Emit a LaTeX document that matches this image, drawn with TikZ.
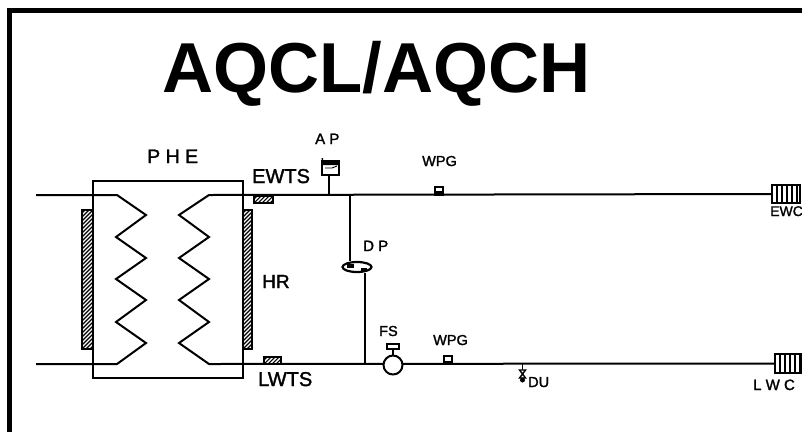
\documentclass[tikz,border=0pt]{standalone}
\usepackage{fontspec}
\setmainfont{Liberation Sans}
\newfontfamily\labfont[FakeBold=1.6]{Liberation Sans}
\usetikzlibrary{shapes.geometric}
\newcommand{\hatchrect}[5]{% x1,y1,x2,y2,line width
 \begin{scope}
 \clip (#1,#2) rectangle (#3,#4);
 \fill[black] (#1,#2) rectangle (#3,#4);
 \foreach \k in {-160,-156,...,24}{\draw[white,line width=#5pt] (#1+\k,#4+2)--(#1+\k+160,#4-158);}
 \end{scope}}
\tikzset{
 x=1pt,y=-1pt,
 pipe/.style={line width=2pt,line join=miter},
 vline/.style={line width=1.3pt},
 lbs/.style={inner sep=0pt,anchor=base west,font=\labfont\fontsize{14.5}{15}\selectfont},
 lbm/.style={inner sep=0pt,anchor=base west,font=\labfont\fontsize{15}{15}\selectfont},
 lbl/.style={inner sep=0pt,anchor=base west,font=\labfont\fontsize{20}{20}\selectfont},
 instr/.style={draw,line width=2pt,fill=white,inner sep=0pt},
 outline/.style={draw,line width=1.5pt,inner sep=0pt},
}
\begin{document}
\begin{tikzpicture}
\useasboundingbox (0,0) rectangle (802,432);
\fill[black] (7,8) rectangle (802,13);
\fill[black] (7,8) rectangle (12,432);
\node[inner sep=0pt,anchor=base,font=\bfseries\fontsize{70.7}{71}\selectfont] (title) at (376.5,92) {AQCL/AQCH};
\coordinate (tl) at (36,195); \coordinate (bl) at (36,364);
\coordinate (t1) at (117,195); \coordinate (b1) at (117,364);
\coordinate (t2) at (209,195); \coordinate (b2) at (209,364);
\coordinate (apj) at (329,195); \coordinate (dpt) at (350,195); \coordinate (dpb) at (365,364);
\coordinate (duj) at (522.5,364);
% heat resistors
\hatchrect{82}{210}{93}{349}{1.1}
\hatchrect{243}{210}{252}{349}{1.1}
\node[outline,minimum width=11pt,minimum height=139pt] (hrl) at (87.5,279.5) {};
\node[outline,minimum width=9pt,minimum height=139pt] (hrr) at (247.5,279.5) {};
% PHE
\node[draw,line width=2pt,minimum width=150pt,minimum height=197pt,inner sep=0pt] (phe) at (168,279.5) {};
\node[inner sep=0pt,anchor=base west,font=\labfont\fontsize{19.5}{20}\selectfont] (phel) at (147,163) {P H E};
% water connections
\node[instr,minimum width=28pt,minimum height=18pt] (ewc) at (786,194) {};
\node[instr,minimum width=27pt,minimum height=19pt] (lwc) at (788.5,363.5) {};
\foreach \x in {777,782,787,792,797}{\draw[line width=1.5pt] (\x,185)--(\x,203);}
\foreach \x in {780,785,790,795,800}{\draw[line width=1.3pt] (\x,354)--(\x,373);}
% pipes and plates
\draw[pipe] (tl)--(t1)--(146,215)--(116,237)--(146,258)--(116,279)--(146,300)--(116,322)--(146,343)--(b1)--(bl);
\draw[pipe] (ewc.west)--(t2)--(179,215)--(209,237)--(179,258)--(209,279)--(179,300)--(209,322)--(179,343)--(b2)--(lwc.west);
% sensors
\hatchrect{254}{196}{273}{203}{1.4}
\node[outline,minimum width=19pt,minimum height=7pt] (ewts) at (263.5,199.5) {};
\hatchrect{264}{357}{281}{364}{1.4}
\node[outline,minimum width=17pt,minimum height=7pt] (lwts) at (272.5,360.5) {};
\node[lbl] (ewtsl) at (252,183) {EWTS};
\node[lbl] (lwtsl) at (258,386) {LWTS};
\node[lbl,font=\labfont\fontsize{19}{20}\selectfont] (hrlbl) at (262,288) {HR};
% AP
\node[instr,minimum width=17pt,minimum height=14pt] (ap) at (330,168) {};
\fill (321.5,161) rectangle (338.5,165) (321.5,158) rectangle (323,162);
\draw[line width=0.9pt] (325,168)--(332,168)--(337,166);
\draw[pipe] (ap.south -| apj)--(apj);
\node[lbm] (apl) at (315,144) {A P};
% WPG top
\node[instr,minimum width=8pt,minimum height=8pt] (wpgt) at (439,190.5) {};
\fill (435,191) rectangle (443,195);
\node[lbs] (wpgtl) at (422,166) {WPG};
% DP
\node[draw,line width=2.2pt,fill=white,ellipse,minimum width=29pt,minimum height=10pt,inner sep=0pt] (dp) at (357,267) {};
\fill (347,264) rectangle (354,268);
\fill (361,267.5) rectangle (367,271);
\draw[vline] (dpt)--(dpt |- dp.north);
\draw[vline] (dpb |- dp.south)--(dpb);
\node[lbm] (dpl) at (363,251) {D P};
% FS
\node[draw,line width=2pt,circle,fill=white,minimum size=19pt,inner sep=0pt] (fs) at (393,365) {};
\node[instr,minimum width=12pt,minimum height=4.5pt] (fsb) at (393,346.5) {};
\draw[pipe] (fsb)--(fs);
\node[lbs] (fsl) at (379,336) {FS};
% WPG bottom
\node[instr,minimum width=8pt,minimum height=8pt] (wpgb) at (447.5,359.5) {};
\fill (443.5,360.5) rectangle (451.5,364);
\node[lbs] (wpgbl) at (433,345) {WPG};
% DU
\draw[vline] (duj)--(522.5,370);
\draw[line width=1.4pt,fill=white] (519.5,370)--(525.5,370)--(519.5,378)--(525.5,378)--cycle;
\fill (522.5,380) circle (2.5pt);
\node[lbs] (dul) at (528,387) {DU};
% end labels
\node[inner sep=0pt,anchor=base west,font=\labfont\fontsize{14}{14}\selectfont] (ewcl) at (770,216) {EWC};
\node[lbm] (lwcl) at (753,390) {L W C};
\end{tikzpicture}
\end{document}
